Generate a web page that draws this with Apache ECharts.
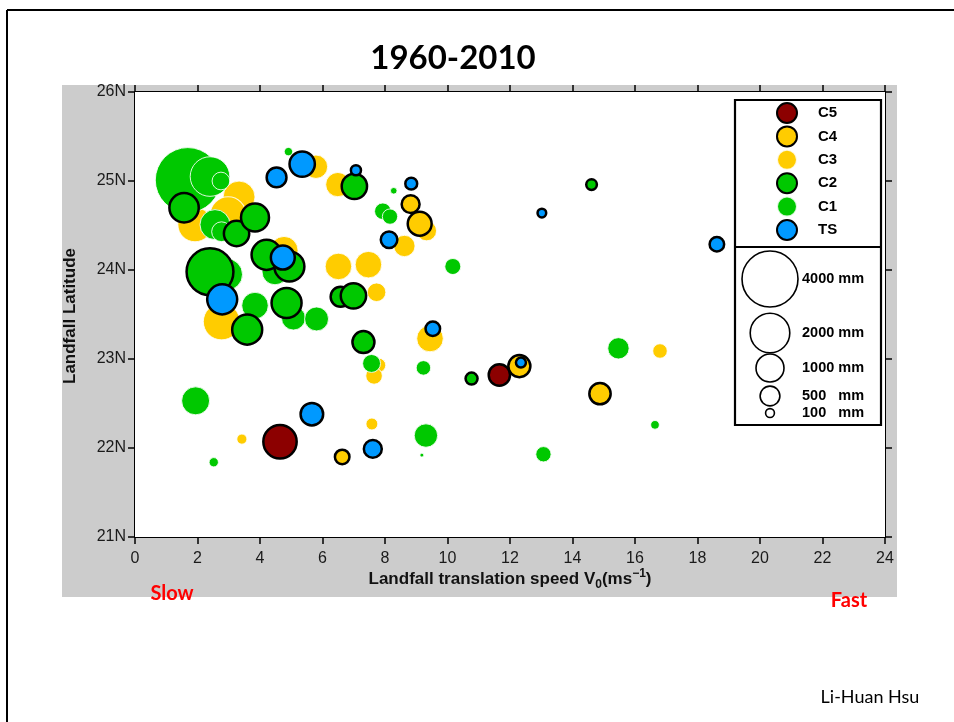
<!DOCTYPE html>
<html>
<head>
<meta charset="utf-8">
<script src="https://cdn.jsdelivr.net/npm/echarts@6/dist/echarts.min.js"></script>
<style>
html,body{margin:0;padding:0;background:#fff;}
#chart{width:954px;height:722px;}
</style>
</head>
<body>
<div id="chart"></div>
<script>
// Categories (legend order)
const categories = ['C5', 'C4', 'C3', 'C2', 'C1', 'TS'];
const xTicks = [0, 24, 2];
const yTicks = [21, 26, 1];
const sizeKey = [4000, 2000, 1000, 500, 100];

// [speed (m/s), latitude (N), rainfall (mm)]
const c1 = [
  [1.69,25.01,5400],[2.4,25.05,2000],[2.75,25.0,400],[2.56,24.51,1150],[2.77,24.43,500],
  [4.91,25.33,90],[8.28,24.89,56],[7.93,24.66,350],[8.16,24.60,300],[2.93,23.95,1300],
  [3.84,23.60,900],[4.48,23.98,860],[5.07,23.46,730],[5.81,23.45,730],[7.57,22.95,410],
  [9.23,22.90,270],[10.17,24.04,330],[1.94,22.53,1000],[9.31,22.14,700],[2.52,21.84,110],
  [9.18,21.92,20],[13.07,21.93,300],[15.47,23.12,580],[16.64,22.26,96]
];
const c3 = [
  [3.33,24.82,1300],[1.92,24.51,1500],[2.98,24.62,1650],[5.79,25.16,700],[6.49,24.96,750],
  [9.33,24.44,510],[8.62,24.27,580],[4.77,24.22,1000],[6.51,24.04,900],[7.47,24.06,900],
  [7.73,23.75,440],[2.77,23.42,1700],[7.8,22.93,250],[7.65,22.81,350],[9.44,23.23,900],
  [7.58,22.27,180],[3.42,22.10,130],[16.8,23.09,270]
];
const c2 = [
  [1.57,24.70,1100],[3.25,24.41,820],[3.84,24.59,1000],[7.02,24.94,820],[2.4,23.98,2800],
  [3.59,23.33,1150],[4.21,24.17,1150],[4.94,24.04,1150],[4.85,23.63,1150],[6.58,23.70,510],
  [6.99,23.71,820],[7.31,23.19,620],[10.77,22.78,184],[14.61,24.96,145]
];
const c4 = [
  [8.82,24.74,410],[9.11,24.52,730],[6.63,21.90,270],[12.3,22.92,620],[14.88,22.61,580]
];
const c5 = [
  [4.64,22.07,1420],[11.66,22.82,580]
];
const ts = [
  [4.53,25.04,500],[5.35,25.19,820],[7.07,25.12,130],[8.84,24.97,180],[8.13,24.34,350],
  [4.73,24.14,730],[2.79,23.67,1150],[9.53,23.34,270],[5.66,22.38,650],[7.61,21.99,410],
  [12.35,22.96,127],[13.02,24.64,96],[18.62,24.29,270]
];

const GREEN = '#00C800', YELLOW = '#FFCC00', BLUE = '#0099FF', DARKRED = '#8C0000';
const sizeFn = mm => 0.885 * Math.sqrt(mm);
const narrow = '"Liberation Sans Narrow", "Liberation Sans", Arial, sans-serif';
const sans = '"Liberation Sans", Arial, sans-serif';

function ser(name, data, color, bordered, z) {
  return {
    name: name, type: 'scatter', data: data, z: z,
    symbol: 'circle',
    symbolSize: v => sizeFn(v[2]),
    itemStyle: bordered
      ? {color: color, borderColor: '#000', borderWidth: 2.5, opacity: 1}
      : {color: color, borderColor: 'rgba(255,255,255,0.85)', borderWidth: 1, opacity: 1},
    emphasis: {disabled: true},
    animation: false
  };
}

const chart = echarts.init(document.getElementById('chart'), null, {renderer: 'canvas'});

const axisCommon = {
  axisLine: {show: true, onZero: false, lineStyle: {color: '#000', width: 2}},
  axisTick: {show: true, inside: false, length: 7, lineStyle: {color: '#000', width: 1.5}},
  splitLine: {show: false}
};

// size key graphics
const keyY = [279, 333, 368, 396, 413];
const keyLabels = ['4000 mm', '2000 mm', '1000 mm', '500   mm', '100   mm'];
const keyGraphics = [];
sizeKey.forEach((mm, i) => {
  keyGraphics.push({type: 'circle', z: 20, shape: {cx: 770, cy: keyY[i], r: sizeFn(mm) / 2},
    style: {fill: '#fff', stroke: '#000', lineWidth: 1.6}});
  keyGraphics.push({type: 'text', z: 20, x: 802, y: keyY[i],
    style: {text: keyLabels[i], font: 'bold 14.5px ' + sans, fill: '#000', verticalAlign: 'middle', textAlign: 'left'}});
});

chart.setOption({
  animation: false,
  backgroundColor: '#fff',
  grid: {left: 135, top: 92, width: 750, height: 445, show: true, backgroundColor: '#fff', borderWidth: 0, z: 1},
  xAxis: [
    Object.assign({type: 'value', position: 'bottom', min: xTicks[0], max: xTicks[1], interval: xTicks[2],
      axisLabel: {fontFamily: narrow, fontSize: 16, color: '#1a1a1a', margin: 14}}, axisCommon),
    Object.assign({type: 'value', position: 'top', min: xTicks[0], max: xTicks[1], interval: xTicks[2],
      axisLabel: {show: false}}, axisCommon)
  ],
  yAxis: [
    Object.assign({type: 'value', position: 'left', min: yTicks[0], max: yTicks[1], interval: yTicks[2],
      axisLabel: {fontFamily: narrow, fontSize: 16, color: '#1a1a1a', margin: 9, formatter: '{value}N'}}, axisCommon),
    Object.assign({type: 'value', position: 'right', min: yTicks[0], max: yTicks[1], interval: yTicks[2],
      axisLabel: {show: false}}, axisCommon)
  ],
  legend: {
    orient: 'vertical', left: 776, top: 102, z: 20, padding: 0,
    data: categories, icon: 'circle', itemWidth: 20, itemHeight: 20, itemGap: 1.4,
    selectedMode: false,
    textStyle: {fontFamily: sans, fontWeight: 'bold', fontSize: 15, color: '#000', padding: [0, 0, 0, 16], lineHeight: 20}
  },
  series: [
    ser('C3', c3, YELLOW, false, 2),
    ser('C1', c1, GREEN, false, 3),
    ser('C2', c2, GREEN, true, 4),
    ser('C4', c4, YELLOW, true, 5),
    ser('C5', c5, DARKRED, true, 6),
    ser('TS', ts, BLUE, true, 7)
  ],
  graphic: [
    // slide frame
    {type: 'line', z: 0, shape: {x1: 7, y1: 10, x2: 954, y2: 10}, style: {stroke: '#000', lineWidth: 2}},
    {type: 'line', z: 0, shape: {x1: 7, y1: 10, x2: 7, y2: 722}, style: {stroke: '#000', lineWidth: 2}},
    // gray panel
    {type: 'rect', z: -10, shape: {x: 62, y: 85, width: 835, height: 512}, style: {fill: '#CCCCCC'}},
    // title
    {type: 'text', z: 10, x: 453, y: 58, style: {text: '1960-2010', font: 'bold 33px Lato, "Open Sans", sans-serif', fill: '#000', textAlign: 'center', verticalAlign: 'middle'}},
    // axis titles
    {type: 'text', z: 10, x: 70, y: 316, rotation: Math.PI / 2,
      style: {text: 'Landfall Latitude', font: 'bold 17px ' + narrow, fill: '#111', textAlign: 'center', verticalAlign: 'middle'}},
    {type: 'text', z: 10, x: 510, y: 579,
      style: {
        text: '{m|Landfall translation speed V}{sub|0}{m|(ms}{sup|−1}{m|)}',
        textAlign: 'center', verticalAlign: 'middle',
        rich: {
          m: {font: 'bold 17px ' + narrow, fill: '#111'},
          sub: {font: 'bold 12px ' + narrow, fill: '#111', padding: [12, 0, 0, 0]},
          sup: {font: 'bold 12px ' + narrow, fill: '#111', padding: [0, 0, 10, 0]}
        }
      }},
    // Slow / Fast / author
    {type: 'text', z: 10, x: 172, y: 594, style: {text: 'Slow', font: 'bold 20px Lato, sans-serif', fill: '#FF0000', textAlign: 'center', verticalAlign: 'middle'}},
    {type: 'text', z: 10, x: 849, y: 601, style: {text: 'Fast', font: 'bold 20px Lato, sans-serif', fill: '#FF0000', textAlign: 'center', verticalAlign: 'middle'}},
    {type: 'text', z: 10, x: 870, y: 697, style: {text: 'Li-Huan Hsu', font: '18px Lato, sans-serif', fill: '#000', textAlign: 'center', verticalAlign: 'middle'}},
    // legend box
    {type: 'rect', z: 15, shape: {x: 735, y: 100, width: 146, height: 325}, style: {fill: '#fff', stroke: '#000', lineWidth: 2.2}},
    {type: 'line', z: 16, shape: {x1: 735, y1: 247, x2: 881, y2: 247}, style: {stroke: '#000', lineWidth: 2.2}}
  ].concat(keyGraphics)
});
</script>
</body>
</html>
